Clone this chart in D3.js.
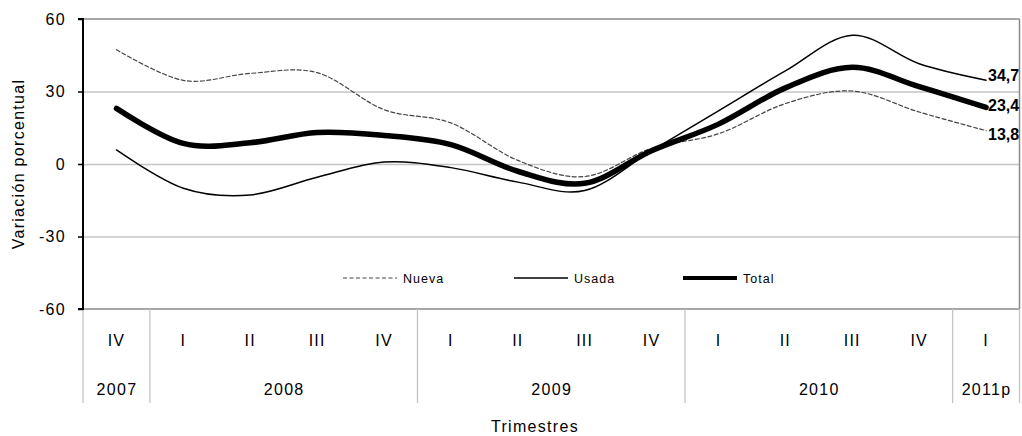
<!DOCTYPE html>
<html>
<head>
<meta charset="utf-8">
<script src="https://cdn.jsdelivr.net/npm/d3@7"></script>
<style>
  html, body { margin: 0; padding: 0; background: #fff; }
  svg { display: block; }
  text { font-family: "Liberation Sans", Arial, sans-serif; fill: #000; }
</style>
</head>
<body>
<svg id="chart" width="1022" height="436"></svg>
<script>
// Quarterly percentage change, new vs used vs total
const quarters = ["IV", "I", "II", "III", "IV", "I", "II", "III", "IV", "I", "II", "III", "IV", "I"];
const years = [
  { label: "2007", start: 0, end: 1 },
  { label: "2008", start: 1, end: 5 },
  { label: "2009", start: 5, end: 9 },
  { label: "2010", start: 9, end: 13 },
  { label: "2011p", start: 13, end: 14 }
];
const nueva = [47.3, 34.6, 37.5, 37.8, 22.5, 17.0, 1.5, -5.2, 6.5, 12.5, 25.0, 30.2, 21.5, 13.8];
const usada = [5.8, -10.0, -12.8, -5.5, 0.8, -1.5, -7.5, -11.0, 5.5, 22.0, 38.5, 53.3, 41.5, 34.7];
const total = [23.0, 8.5, 8.8, 13.0, 11.8, 8.0, -3.0, -8.0, 5.5, 16.5, 31.5, 40.0, 32.0, 23.4];
const yTicks = [-60, -30, 0, 30, 60];
const yTitle = "Variación porcentual";
const xTitle = "Trimestres";

const svg = d3.select("#chart");
const plotL = 83, plotR = 1019.5, plotT = 19, plotB = 309;

const x = d3.scaleBand().domain(d3.range(quarters.length)).range([plotL, plotR]).padding(0);
const y = d3.scaleLinear().domain([-60, 60]).range([plotB, plotT]);
const cx = i => x(i) + x.bandwidth() / 2;
const edge = i => i < quarters.length ? x(i) : plotR;

// horizontal gridlines
svg.append("g")
  .attr("transform", `translate(${plotL},0)`)
  .call(d3.axisLeft(y).tickValues([-30, 0, 30]).tickSize(-(plotR - plotL)).tickFormat(""))
  .call(g => g.select(".domain").remove())
  .call(g => g.selectAll("line").attr("stroke", "#c4c4c4").attr("stroke-width", 1.3));

// plot frame (top, right, bottom)
svg.append("line").attr("x1", plotL).attr("x2", plotR).attr("y1", y(60)).attr("y2", y(60))
  .attr("stroke", "#8a8a8a").attr("stroke-width", 1.5);
svg.append("line").attr("x1", plotR).attr("x2", plotR).attr("y1", y(60)).attr("y2", y(-60))
  .attr("stroke", "#8a8a8a").attr("stroke-width", 1.5);
svg.append("line").attr("x1", plotL).attr("x2", plotR).attr("y1", y(-60)).attr("y2", y(-60))
  .attr("stroke", "#8a8a8a").attr("stroke-width", 1.5);

// category separators below the plot
const sepBottom = 403;
const seps = [0].concat(years.map(d => d.end));
svg.append("g").selectAll("line").data(seps).join("line")
  .attr("x1", d => edge(d)).attr("x2", d => edge(d))
  .attr("y1", plotB).attr("y2", sepBottom)
  .attr("stroke", "#c4c4c4").attr("stroke-width", 1.3);

// quarter labels
svg.append("g").selectAll("text").data(quarters).join("text")
  .attr("x", (d, i) => cx(i)).attr("y", 346)
  .attr("text-anchor", "middle")
  .style("font-size", "16px").style("letter-spacing", "1.2px")
  .text(d => d);

// year labels
svg.append("g").selectAll("text").data(years).join("text")
  .attr("x", d => (edge(d.start) + edge(d.end)) / 2 + 0.5).attr("y", 395)
  .attr("text-anchor", "middle")
  .style("font-size", "16px").style("letter-spacing", "1.3px")
  .text(d => d.label);

// value axis (plain hyphen for negatives)
svg.append("g")
  .attr("transform", `translate(${plotL},0)`)
  .call(d3.axisLeft(y).tickValues(yTicks).tickSize(5).tickPadding(12).tickFormat(d => String(d)))
  .call(g => g.select(".domain").attr("stroke", "#000").attr("stroke-width", 2).attr("d", `M-5,${y(60)}H0V${y(-60)}H-5`))
  .call(g => g.selectAll(".tick line").attr("stroke", "#000").attr("stroke-width", 1.5))
  .call(g => g.selectAll(".tick text")
    .style("font-size", "16px").style("letter-spacing", "1.3px")
    .style("font-family", "'Liberation Sans', Arial, sans-serif").attr("fill", "#000"));

// axis titles
svg.append("text")
  .attr("transform", `translate(24,${(plotT + plotB) / 2}) rotate(-90)`)
  .attr("text-anchor", "middle")
  .style("font-size", "16px").style("letter-spacing", "1.3px")
  .text(yTitle);
svg.append("text")
  .attr("x", 535).attr("y", 432)
  .attr("text-anchor", "middle")
  .style("font-size", "16px").style("letter-spacing", "1.3px")
  .text(xTitle);

// series lines
const line = d3.line().x((d, i) => cx(i)).y(d => y(d)).curve(d3.curveCardinal.tension(0));
const series = [
  { name: "Nueva", values: nueva, stroke: "#444", width: 1.2, dash: "4,2.5", labelDy: 5 },
  { name: "Usada", values: usada, stroke: "#000", width: 1.5, dash: null, labelDy: -3 },
  { name: "Total", values: total, stroke: "#000", width: 5.5, dash: null, labelDy: -1 }
];
series.forEach(s => {
  svg.append("path").datum(s.values)
    .attr("fill", "none").attr("stroke", s.stroke)
    .attr("stroke-width", s.width).attr("stroke-dasharray", s.dash)
    .attr("stroke-linecap", "round").attr("stroke-linejoin", "round")
    .attr("d", line);
});

// end-point value labels
const fmt = v => d3.format(".1f")(v).replace(".", ",");
const last = quarters.length - 1;
series.forEach(s => {
  svg.append("text")
    .attr("x", cx(last) + 2).attr("y", y(s.values[last]) + s.labelDy)
    .attr("dominant-baseline", "middle")
    .style("font-size", "16px").style("font-weight", "bold")
    .text(fmt(s.values[last]));
});

// legend
const legendY = 278;
const legend = [
  { x: 343, name: "Nueva" },
  { x: 514, name: "Usada" },
  { x: 683, name: "Total" }
];
legend.forEach((l, k) => {
  const s = series[k];
  svg.append("line")
    .attr("x1", l.x).attr("x2", l.x + 54).attr("y1", legendY).attr("y2", legendY)
    .attr("stroke", s.stroke).attr("stroke-dasharray", s.dash)
    .attr("stroke-width", k === 2 ? 4 : s.width);
  svg.append("text")
    .attr("x", l.x + 60).attr("y", legendY + 4.5)
    .style("font-size", "12.5px").style("letter-spacing", "1px")
    .text(l.name);
});
</script>
</body>
</html>
